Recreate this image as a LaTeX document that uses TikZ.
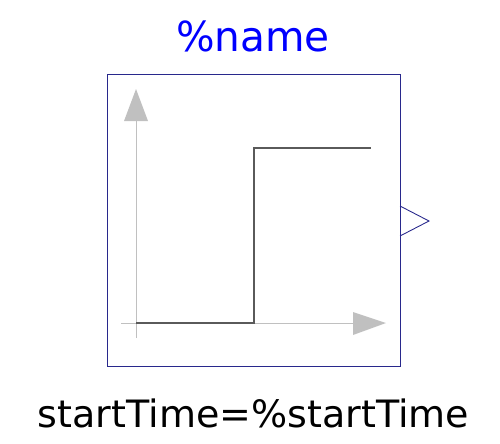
\documentclass[tikz,border=0pt]{standalone}
\usepackage{fontspec}
\setmainfont{DejaVu Sans}
\usetikzlibrary{positioning}

\definecolor{iconblue}{RGB}{40,40,140}
\definecolor{axisgray}{RGB}{192,192,192}
\definecolor{stepgray}{RGB}{90,90,90}

\begin{document}
\begin{tikzpicture}[x=0.02cm, y=-0.02cm,
  frame/.style={draw=iconblue, line width=0.5pt},
  axis/.style={draw=axisgray, line width=0.35pt},
  head/.style={fill=axisgray, draw=none},
  signal/.style={draw=stepgray, line width=0.6pt},
  label/.style={inner sep=0pt, anchor=base}]

\useasboundingbox (0, 0) rectangle (500, 443);

%block
\draw[frame] (107, 74) rectangle (400, 366);

%output port
\draw[frame] (400, 206) -- (429, 221) -- (400, 236);

%axes
\draw[axis] (136, 338) -- (136, 121);
\draw[axis] (121, 323) -- (353, 323);
\fill[head] (136, 89) -- (148, 121) -- (124, 121) -- cycle;
\fill[head] (386, 323) -- (353, 312) -- (353, 335) -- cycle;

%step
\coordinate (s0) at (136, 323);
\coordinate (s1) at (254, 323);
\coordinate (s2) at (254, 148);
\coordinate (s3) at (371, 148);
\draw[signal] (s0) -- (s1) -- (s2) -- (s3);

%texts
\node[label, text=blue] at (253, 51) (name)
  {\scalebox{1.06}[1.08]{\fontsize{21.8pt}{26pt}\selectfont \%name}};
\node[label] at (253.5, 427) (start)
  {\scalebox{1.11}[1.1]{\fontsize{19.5pt}{24pt}\selectfont startTime=\%startTime}};

\end{tikzpicture}
\end{document}
